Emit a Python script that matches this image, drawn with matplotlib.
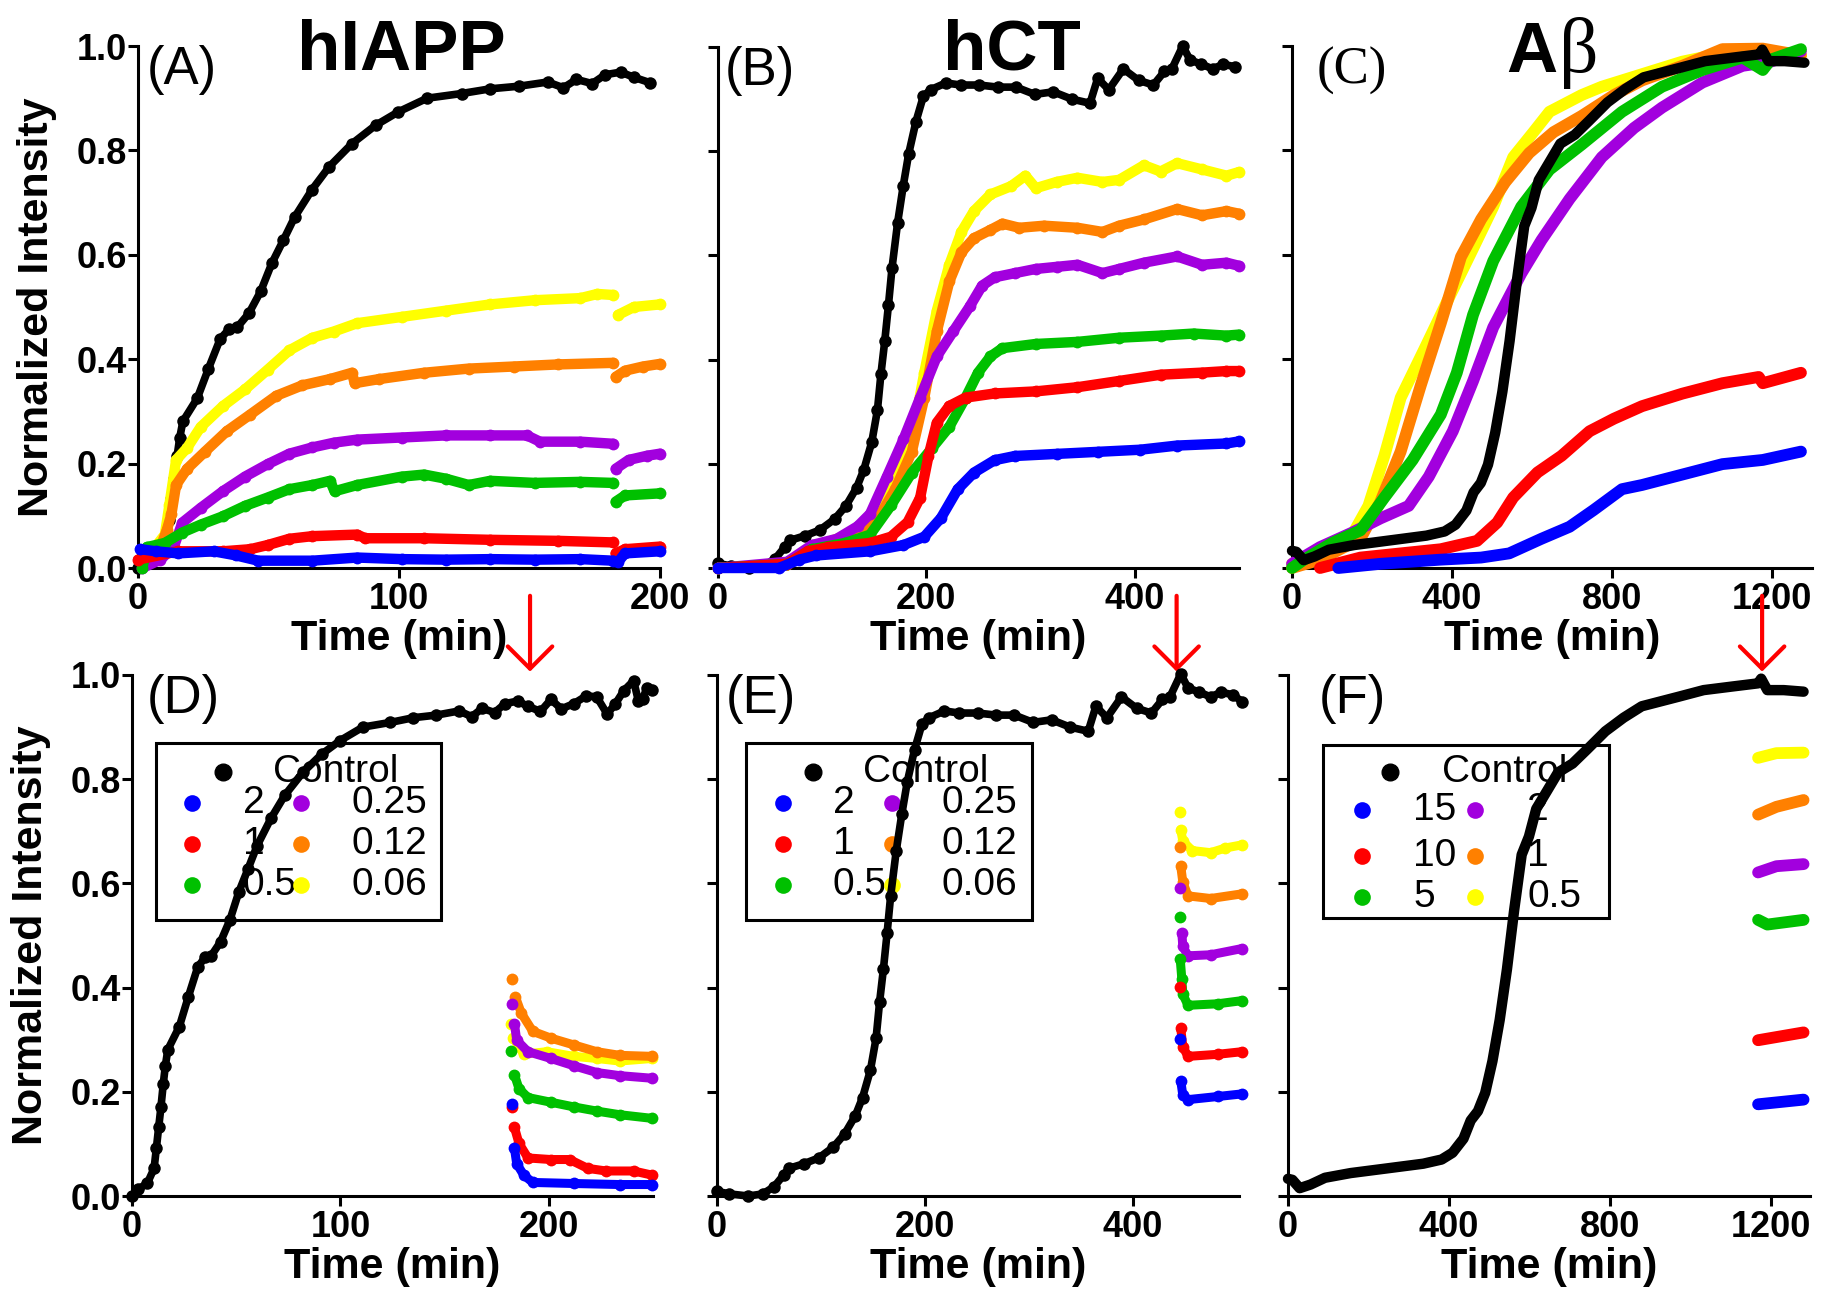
import numpy as np
import matplotlib
matplotlib.use('Agg')
import matplotlib.pyplot as plt
from matplotlib.patches import Rectangle

plt.rcParams['font.family'] = ['Liberation Sans', 'DejaVu Sans']

nan = float('nan')

# ---------------- data ----------------
# hIAPP control (panels A and D)
hiapp_ctrl_t = [0, 2.9, 7.3, 10.6, 11.7, 12.8, 13.9, 15.0, 16.0, 17.2, 22.7, 27.0, 31.5, 35, 38.0, 42.5,
                47.0, 51.3, 55.7, 60.0, 66.7, 73.3, 82.0, 91.0, 99.8, 110.8, 124, 135, 146, 157, 163,
                168, 174, 179, 185, 190, 196, 201, 206, 212, 218, 223, 228, 232, 236, 240.7, 243, 245,
                247, 249.6]
hiapp_ctrl_v = [0, .013, .024, .053, .092, .132, .171, .215, .25, .281, .325, .382, .439, .458, .461, .488,
                .53, .584, .628, .672, .725, .769, .813, .848, .874, .90, .909, .918, .923, .931, .92,
                .936, .928, .945, .95, .94, .93, .953, .935, .945, .96, .958, .925, .945, .97, .989, .95,
                .953, .975, .971]

# hIAPP with inhibitor (panel A), gap at ~183 min
hiapp_t_yellow = [1.7, 10.3, 12, 14.6, 18.8, 24, 32.5, 41, 49.7, 58, 66.8, 75, 84, 101, 118, 135, 152,
                  169.5, 176, 182, nan, 184, 190, 200]
hiapp_v_yellow = [.008, .064, .12, .207, .23, .27, .31, .342, .38, .417, .441, .453, .469, .481, .493,
                  .505, .513, .517, .525, .523, nan, .485, .50, .505]
hiapp_t_orange = [1.7, 8.6, 11, 12.8, 14.6, 18.8, 25.7, 34, 43, 53, 63, 73.6, 82, 83, 92.5, 109.6, 126.7,
                  144, 161, 182, nan, 183, 186.6, 193.5, 200]
hiapp_v_orange = [.008, .04, .072, .103, .159, .19, .223, .262, .294, .33, .35, .362, .374, .354, .362,
                  .374, .382, .386, .39, .393, nan, .366, .378, .386, .391]
hiapp_t_purple = [1.7, 8.6, 13.7, 17, 24, 32.5, 41, 49.7, 58, 66.8, 75, 84, 101, 118, 135, 149, 154,
                  169.5, 182, nan, 183, 188, 195, 200]
hiapp_v_purple = [0, .016, .04, .087, .115, .147, .175, .199, .219, .231, .24, .246, .25, .254, .254,
                  .254, .242, .242, .238, nan, .19, .207, .215, .219]
hiapp_t_green = [1.7, 3.4, 10.3, 17, 24, 32.5, 41, 49.7, 58, 66.8, 73.6, 75.3, 84, 101, 109.6, 118,
                 126.7, 135, 152, 169.5, 182, nan, 183, 186.6, 200]
hiapp_v_green = [0, .04, .048, .068, .083, .099, .119, .135, .151, .159, .167, .147, .159, .175, .179,
                 .171, .159, .167, .163, .165, .163, nan, .127, .139, .143]
hiapp_t_red = [0, 15.4, 32.5, 43, 49.7, 58, 66.8, 84, 87, 109.6, 135, 161, 182, nan, 183, 186.6, 200]
hiapp_v_red = [.016, .032, .032, .036, .044, .056, .061, .064, .057, .057, .054, .052, .049, nan, .028,
               .036, .041]
hiapp_t_blue = [0.9, 6.8, 15.4, 29, 37.7, 46, 66.8, 84, 101, 118, 135, 152, 169.5, 182, 184, 186.6, 200]
hiapp_v_blue = [.036, .032, .028, .032, .024, .014, .014, .02, .017, .016, .017, .016, .017, .014, .012,
                .028, .032]

# hIAPP after addition (panel D)
hiapp2_t_orange = [182.4, 184, 186.8, 192.3, 201, 212, 223, 234, 249.6]
hiapp2_v_orange = [.417, .382, .351, .316, .303, .29, .277, .27, .268]
hiapp2_t_purple = [182.4, 183.5, 184.6, 190, 201, 212, 223, 234, 249.6]
hiapp2_v_purple = [.369, .331, .299, .277, .264, .25, .237, .231, .226]
hiapp2_t_yellow = [181.7, 183, 188, 199, 212, 223, 234, 249.6]
hiapp2_v_yellow = [.331, .303, .272, .277, .268, .264, .259, .264]
hiapp2_t_green = [181.7, 183.5, 185.7, 190, 201, 212, 223, 234, 249.6]
hiapp2_v_green = [.279, .233, .206, .189, .18, .171, .163, .156, .149]
hiapp2_t_red = [182.4, 183.5, 185.7, 190, 201, 210, 218.7, 227.5, 240.7, 249.6]
hiapp2_v_red = [.171, .132, .101, .073, .07, .07, .053, .048, .048, .04]
hiapp2_t_blue = [182.4, 183.5, 184.6, 188, 192.3, 212, 234, 249.6]
hiapp2_v_blue = [.176, .092, .062, .04, .026, .024, .022, .022]

# hCT control (panels B and E)
hct_ctrl_t = [0, 12, 30, 44, 55, 64, 69, 83.6, 97.8, 112, 122.7, 133, 140, 147.6, 153, 156.4, 160, 163.6,
              167, 172.4, 177.8, 183, 190, 197, 204, 218.7, 232.9, 250.7, 268.4, 286, 304, 321.8, 339.5,
              357, 364.4, 375, 389, 403.6, 417.8, 428.4, 435.6, 446, 453, 464, 474.7, 485, 496, 505]
hct_ctrl_v = [.009, .004, 0, .004, .018, .04, .053, .062, .073, .094, .119, .154, .189, .242, .303, .373,
              .435, .505, .576, .663, .734, .795, .857, .905, .918, .931, .927, .927, .923, .923, .909,
              .914, .90, .892, .94, .918, .958, .936, .927, .953, .958, 1.002, .975, .967, .958, .967,
              .962, .949]

# hCT with inhibitor (panel B)
hct_t_yellow = [0, 66.5, 90, 114, 138, 154, 170, 186, 198, 210, 222, 233.6, 245.6, 261.5, 281.4, 295,
                305, 325, 345, 369, 385, 408.8, 424.7, 440.6, 464.5, 488, 500]
hct_v_yellow = [0, .008, .04, .056, .076, .104, .167, .247, .375, .494, .582, .645, .685, .717, .733,
                .753, .729, .741, .749, .741, .745, .773, .761, .777, .765, .753, .76]
hct_t_orange = [0, 66.5, 90, 114, 138, 154, 170, 186, 198, 210, 222, 233.6, 245.6, 261.5, 273, 289, 313,
                345, 369, 385, 408.8, 440.6, 464.5, 488, 500]
hct_v_orange = [0, .008, .04, .052, .068, .096, .151, .223, .327, .454, .55, .606, .633, .649, .661,
                .653, .657, .653, .645, .657, .669, .689, .677, .685, .68]
hct_t_purple = [0, 66.5, 90, 114, 134, 146, 162, 178, 194, 210, 225.7, 241.6, 253.5, 265.5, 285, 305,
                325, 345, 369, 385, 408.8, 440.6, 464.5, 488, 500]
hct_v_purple = [0, .012, .044, .056, .08, .104, .175, .247, .327, .406, .454, .502, .542, .558, .566,
                .574, .578, .582, .566, .574, .586, .598, .582, .586, .58]
hct_t_green = [0, 66.5, 90, 122, 146, 166, 186, 205.8, 222, 237.6, 249.6, 261.5, 273, 305, 345, 385,
               424.7, 456.5, 488, 500]
hct_v_green = [0, .008, .036, .048, .064, .12, .183, .231, .271, .327, .375, .406, .422, .43, .434, .442,
               .446, .45, .446, .448]
hct_t_red = [0, 66.5, 86, 106, 146, 166, 182, 194, 202, 210, 222, 237.6, 265.5, 305, 345, 385, 424.7,
             464.5, 488, 500]
hct_v_red = [0, .008, .032, .04, .048, .06, .088, .135, .215, .279, .311, .327, .335, .339, .347, .359,
             .371, .375, .378, .378]
hct_t_blue = [0, 58.5, 78, 94, 146, 178, 198, 214, 230, 245.6, 265.5, 285, 325, 365, 405, 440.6, 488, 500]
hct_v_blue = [0, 0, .016, .024, .032, .044, .06, .096, .151, .183, .207, .215, .219, .223, .227, .235,
              .239, .243]

# hCT after addition (panel E)
hct2_t_yellow = [445, 446, 448, 457, 474.7, 489, 505]
hct2_v_yellow = [.738, .703, .681, .663, .659, .668, .674]
hct2_t_orange = [445, 446, 448, 453, 474.7, 505]
hct2_v_orange = [.67, .633, .602, .576, .571, .58]
hct2_t_purple = [445, 447, 448, 453, 474.7, 505]
hct2_v_purple = [.591, .505, .479, .461, .463, .475]
hct2_t_green = [445, 445.5, 447, 448, 453, 481.8, 505]
hct2_v_green = [.536, .454, .417, .387, .366, .369, .375]
hct2_t_red = [445, 446, 448, 453, 481.8, 505]
hct2_v_red = [.402, .322, .286, .268, .272, .277]
hct2_t_blue = [445, 446, 448, 453, 481.8, 505]
hct2_v_blue = [.301, .221, .193, .185, .191, .196]

# Abeta control (panels C and F)
ab_ctrl_t = [0, 10.9, 29, 56, 92, 155.5, 246, 336, 381.6, 408.8, 436, 454, 472, 490, 508, 526, 544, 562,
             580.6, 598.7, 616.8, 644, 671, 707, 743, 788.6, 833.8, 879, 924, 969, 1032.7, 1105, 1168,
             1175.6, 1191, 1231.7, 1281]
ab_ctrl_v = [.033, .031, .015, .022, .035, .044, .053, .062, .07, .083, .11, .145, .163, .198, .259, .338,
             .435, .549, .655, .69, .743, .778, .813, .83, .857, .892, .918, .94, .949, .958, .971, .978,
             .984, .993, .971, .971, .968]

# Abeta with inhibitor (panel C)
ab_t_yellow = [0, 70, 151, 191, 231, 271.6, 332, 392, 452.6, 503, 553, 603.5, 643.7, 724, 774.5, 875,
               975.7, 1076, 1177, 1272.4]
ab_v_yellow = [.008, .032, .064, .119, .215, .326, .421, .517, .612, .692, .787, .835, .874, .906, .922,
               .946, .97, .986, .99, .982]
ab_t_orange = [0, 70, 171, 221, 271.6, 322, 372, 422.4, 472.7, 533, 593, 653.8, 724, 804.7, 875, 975.7,
               1076, 1177, 1272.4]
ab_v_orange = [0, .016, .056, .127, .223, .35, .469, .596, .668, .739, .795, .835, .866, .906, .934, .962,
               .994, .995, .982]
ab_t_purple = [0, 70, 151, 221, 291.7, 342, 402, 452.6, 503, 573, 623.6, 694, 774.5, 855, 925, 1026,
               1126.6, 1197, 1272.4]
ab_v_purple = [.008, .04, .068, .095, .119, .175, .262, .358, .461, .564, .628, .707, .787, .843, .882,
               .93, .962, .97, .99]
ab_t_green = [0, 30, 100.6, 171, 231, 301.7, 372, 412, 452.6, 503, 573, 643.7, 724, 825, 925, 1026,
              1126.6, 1177, 1197, 1272.4]
ab_v_green = [0, .016, .048, .072, .135, .207, .294, .374, .485, .588, .692, .763, .811, .874, .922, .954,
              .978, .954, .974, .994]
ab_t_red = [70, 171, 271.6, 372, 462.7, 513, 553, 613.6, 674, 744, 804.7, 875, 975.7, 1076, 1166.8, 1177,
            1272.4]
ab_v_red = [0, .02, .028, .036, .052, .087, .135, .183, .215, .262, .286, .31, .334, .354, .366, .354,
            .374]
ab_t_blue = [115.7, 221, 372, 472.7, 543, 623.6, 694, 754, 825, 875, 975.7, 1076, 1177, 1272.4]
ab_v_blue = [0, .008, .016, .02, .028, .056, .079, .111, .151, .159, .179, .199, .207, .223]

# Abeta after addition (panel F)
ab2_t_yellow = [1168, 1213.6, 1281]
ab2_v_yellow = [.841, .85, .851]
ab2_t_orange = [1168, 1213.6, 1281]
ab2_v_orange = [.732, .747, .76]
ab2_t_purple = [1168, 1213.6, 1281]
ab2_v_purple = [.621, .633, .637]
ab2_t_green = [1168, 1191, 1281]
ab2_v_green = [.53, .521, .53]
ab2_t_red = [1168, 1281]
ab2_v_red = [.299, .314]
ab2_t_blue = [1168, 1281]
ab2_v_blue = [.176, .185]

titles = ['hIAPP', 'hCT']
panel_letters = ['(A)', '(B)', '(C)', '(D)', '(E)', '(F)']
legend_labels_peptide = ['2', '1', '0.5', '0.25', '0.12', '0.06']
legend_labels_abeta = ['15', '10', '5', '2', '1', '0.5']
yticks = [0.0, 0.2, 0.4, 0.6, 0.8, 1.0]
ytick_labels = ['0.0', '0.2', '0.4', '0.6', '0.8', '1.0']
xticks_hiapp = [0, 100, 200]
xticks_hct = [0, 200, 400]
xticks_ab = [0, 400, 800, 1200]
arrow_times = [191, 442, 1178]

# ---------------- style ----------------
COL = {'blue': '#0000FF', 'red': '#FF0000', 'green': '#00C000',
       'purple': '#A200DE', 'orange': '#FF8000', 'yellow': '#FFFF00', 'black': '#000000'}
legend_colors = [COL['blue'], COL['red'], COL['green'], COL['purple'], COL['orange'], COL['yellow']]

W, H = 1830, 1298
fig = plt.figure(figsize=(W / 100, H / 100), dpi=100)
fig.patch.set_facecolor('white')


def add_ax(l, r, top, bot):
    return fig.add_axes([l / W, 1 - bot / H, (r - l) / W, (bot - top) / H])


axA = add_ax(138, 660, 46, 568)
axB = add_ax(718, 1239, 47, 568)
axC = add_ax(1292, 1812, 46, 568)
axD = add_ax(132, 653, 675, 1196)
axE = add_ax(717, 1239, 675, 1196)
axF = add_ax(1288, 1810, 675, 1196)

SPW = 2.2


def style_axes(ax, xlim, xticks, ylabels):
    ax.set_xlim(*xlim)
    ax.set_ylim(0, 1.0)
    for s in ['top', 'right']:
        ax.spines[s].set_visible(False)
    for s in ['left', 'bottom']:
        ax.spines[s].set_linewidth(SPW)
    ax.set_xticks(xticks)
    ax.set_xticklabels([str(x) for x in xticks], fontsize=26, fontweight='bold')
    ax.set_yticks(yticks)
    if ylabels:
        ax.set_yticklabels(ytick_labels, fontsize=26, fontweight='bold')
        ax.set_ylabel('Normalized Intensity', fontsize=31, fontweight='bold')
    else:
        ax.set_yticklabels([])
    ax.tick_params(axis='both', direction='out', length=7, width=SPW)
    ax.tick_params(axis='x', pad=3)
    ax.tick_params(axis='y', pad=1)
    ax.set_xlabel('Time (min)', fontsize=31, fontweight='bold')
    ax.patch.set_alpha(0)


def dots(ax, t, v, color, ms=8.5, lw=7.0, z=3, detach=0):
    t = np.asarray(t, float)
    v = np.asarray(v, float)
    ax.plot(t[detach:], v[detach:], '-', color=color, lw=lw, solid_capstyle='round', zorder=z,
            clip_on=False)
    ax.plot(t, v, 'o', color=color, ms=ms, mec='none', zorder=z, clip_on=False)


def band(ax, t, v, color, lw=8.0, z=3):
    ax.plot(t, v, '-', color=color, lw=lw, solid_capstyle='round', solid_joinstyle='round',
            zorder=z, clip_on=False)


def draw_legend(ax, box, ctrl_mx, ctrl_tx, ctrl_y, col_mx, col_tx, rows_y, labels):
    ax.add_patch(Rectangle((box[0], box[1]), box[2] - box[0], box[3] - box[1], transform=ax.transAxes,
                           fill=False, lw=SPW, ec='black', zorder=1, clip_on=False))
    ax.plot([ctrl_mx], [ctrl_y], 'o', color='black', ms=12, transform=ax.transAxes, zorder=1,
            clip_on=False)
    ax.text(ctrl_tx, ctrl_y, 'Control', transform=ax.transAxes, fontsize=28, ha='left',
            va='center', zorder=1)
    for i, (lab, col) in enumerate(zip(labels, legend_colors)):
        c, r = divmod(i, 3)
        ax.plot([col_mx[c]], [rows_y[r]], 'o', color=col, ms=12, mec='none', transform=ax.transAxes,
                zorder=1, clip_on=False)
        ax.text(col_tx[c], rows_y[r], lab, transform=ax.transAxes, fontsize=28, ha='left',
                va='center', zorder=1)


# ---------------- panel A ----------------
style_axes(axA, (0, 200), xticks_hiapp, True)
m = np.asarray(hiapp_ctrl_t) <= 200
dots(axA, np.asarray(hiapp_ctrl_t)[m], np.asarray(hiapp_ctrl_v)[m], COL['black'], ms=9, lw=5.5, z=2)
for t, v, c in [(hiapp_t_yellow, hiapp_v_yellow, 'yellow'), (hiapp_t_orange, hiapp_v_orange, 'orange'),
                (hiapp_t_purple, hiapp_v_purple, 'purple'), (hiapp_t_green, hiapp_v_green, 'green'),
                (hiapp_t_red, hiapp_v_red, 'red'), (hiapp_t_blue, hiapp_v_blue, 'blue')]:
    dots(axA, t, v, COL[c], ms=8.5, lw=7.5, z=3)

# ---------------- panel B ----------------
style_axes(axB, (0, 500), xticks_hct, False)
m = np.asarray(hct_ctrl_t) <= 502
dots(axB, np.asarray(hct_ctrl_t)[m], np.asarray(hct_ctrl_v)[m], COL['black'], ms=9, lw=5.5, z=2)
for t, v, c in [(hct_t_yellow, hct_v_yellow, 'yellow'), (hct_t_orange, hct_v_orange, 'orange'),
                (hct_t_purple, hct_v_purple, 'purple'), (hct_t_green, hct_v_green, 'green'),
                (hct_t_red, hct_v_red, 'red'), (hct_t_blue, hct_v_blue, 'blue')]:
    dots(axB, t, v, COL[c], ms=8.5, lw=7.5, z=3)

# ---------------- panel C ----------------
style_axes(axC, (0, 1300), xticks_ab, False)
for t, v, c in [(ab_t_yellow, ab_v_yellow, 'yellow'), (ab_t_orange, ab_v_orange, 'orange'),
                (ab_t_purple, ab_v_purple, 'purple'), (ab_t_green, ab_v_green, 'green'),
                (ab_t_red, ab_v_red, 'red'), (ab_t_blue, ab_v_blue, 'blue')]:
    band(axC, t, v, COL[c], lw=8.5, z=3)
band(axC, ab_ctrl_t, ab_ctrl_v, COL['black'], lw=7.5, z=4)

# ---------------- panel D ----------------
style_axes(axD, (0, 250), xticks_hiapp, True)
dots(axD, hiapp_ctrl_t, hiapp_ctrl_v, COL['black'], ms=9, lw=5.5, z=4)
for t, v, c in [(hiapp2_t_yellow, hiapp2_v_yellow, 'yellow'), (hiapp2_t_orange, hiapp2_v_orange, 'orange'),
                (hiapp2_t_purple, hiapp2_v_purple, 'purple'), (hiapp2_t_green, hiapp2_v_green, 'green'),
                (hiapp2_t_red, hiapp2_v_red, 'red'), (hiapp2_t_blue, hiapp2_v_blue, 'blue')]:
    dots(axD, t, v, COL[c], ms=8.5, lw=6.5, z=3, detach=1)
draw_legend(axD, (0.046, 0.53, 0.594, 0.8695), 0.175, 0.271, 0.814, (0.115, 0.324), (0.213, 0.422),
            (0.755, 0.676, 0.597), legend_labels_peptide)

# ---------------- panel E ----------------
style_axes(axE, (0, 502), xticks_hct, False)
dots(axE, hct_ctrl_t, hct_ctrl_v, COL['black'], ms=9, lw=5.5, z=4)
for t, v, c in [(hct2_t_yellow, hct2_v_yellow, 'yellow'), (hct2_t_orange, hct2_v_orange, 'orange'),
                (hct2_t_purple, hct2_v_purple, 'purple'), (hct2_t_green, hct2_v_green, 'green'),
                (hct2_t_red, hct2_v_red, 'red'), (hct2_t_blue, hct2_v_blue, 'blue')]:
    dots(axE, t, v, COL[c], ms=8.5, lw=6.5, z=3, detach=1)
draw_legend(axE, (0.0556, 0.53, 0.6034, 0.8695), 0.184, 0.28, 0.814, (0.126, 0.335), (0.222, 0.431),
            (0.755, 0.676, 0.597), legend_labels_peptide)

# ---------------- panel F ----------------
style_axes(axF, (0, 1297), xticks_ab, False)
band(axF, ab_ctrl_t, ab_ctrl_v, COL['black'], lw=7.5, z=4)
for t, v, c in [(ab2_t_yellow, ab2_v_yellow, 'yellow'), (ab2_t_orange, ab2_v_orange, 'orange'),
                (ab2_t_purple, ab2_v_purple, 'purple'), (ab2_t_green, ab2_v_green, 'green'),
                (ab2_t_red, ab2_v_red, 'red'), (ab2_t_blue, ab2_v_blue, 'blue')]:
    band(axF, t, v, COL[c], lw=8.5, z=3)
draw_legend(axF, (0.067, 0.534, 0.614, 0.866), 0.195, 0.295, 0.814, (0.142, 0.358), (0.2395, 0.458),
            (0.741, 0.653, 0.574), legend_labels_abeta)

# ---------------- labels ----------------
for ax in (axA, axD):
    ax.yaxis.set_label_coords(-0.155, 0.5)
for ax in (axA, axB, axC, axD, axE, axF):
    ax.xaxis.set_label_coords(0.5, -0.097)

panel_pos = [(axA, 0.017), (axB, 0.013), (axC, 0.047), (axD, 0.029), (axE, 0.017), (axF, 0.058)]
for (ax, x), letter in zip(panel_pos, panel_letters):
    fam = ['Liberation Serif'] if letter == '(C)' else ['Liberation Sans']
    ax.text(x, 0.928, letter, transform=ax.transAxes, fontsize=38, ha='left', va='baseline',
            family=fam, zorder=6)

fig.text(401 / W, 1 - 70 / H, titles[0], fontsize=51, fontweight='bold', ha='center', va='baseline')
fig.text(1012 / W, 1 - 70 / H, titles[1], fontsize=51, fontweight='bold', ha='center', va='baseline')
fig.text(1557 / W, 1 - 72 / H, 'A', fontsize=51, fontweight='bold', ha='right', va='baseline')
fig.text(1559 / W, 1 - 72 / H, '\u03b2', fontsize=56, ha='left', va='baseline',
         family=['Liberation Serif', 'DejaVu Serif'])

# red arrows
for ax, tx in zip((axD, axE, axF), arrow_times):
    ax.annotate('', xy=(tx, 1.0065), xytext=(tx, 1.152), xycoords=('data', 'axes fraction'),
                textcoords=('data', 'axes fraction'), annotation_clip=False,
                arrowprops=dict(arrowstyle='->,head_length=1.6,head_width=1.6', color='red', lw=3,
                                mutation_scale=10, shrinkA=0, shrinkB=0))

fig.savefig('out.png', dpi=100, facecolor='white')
